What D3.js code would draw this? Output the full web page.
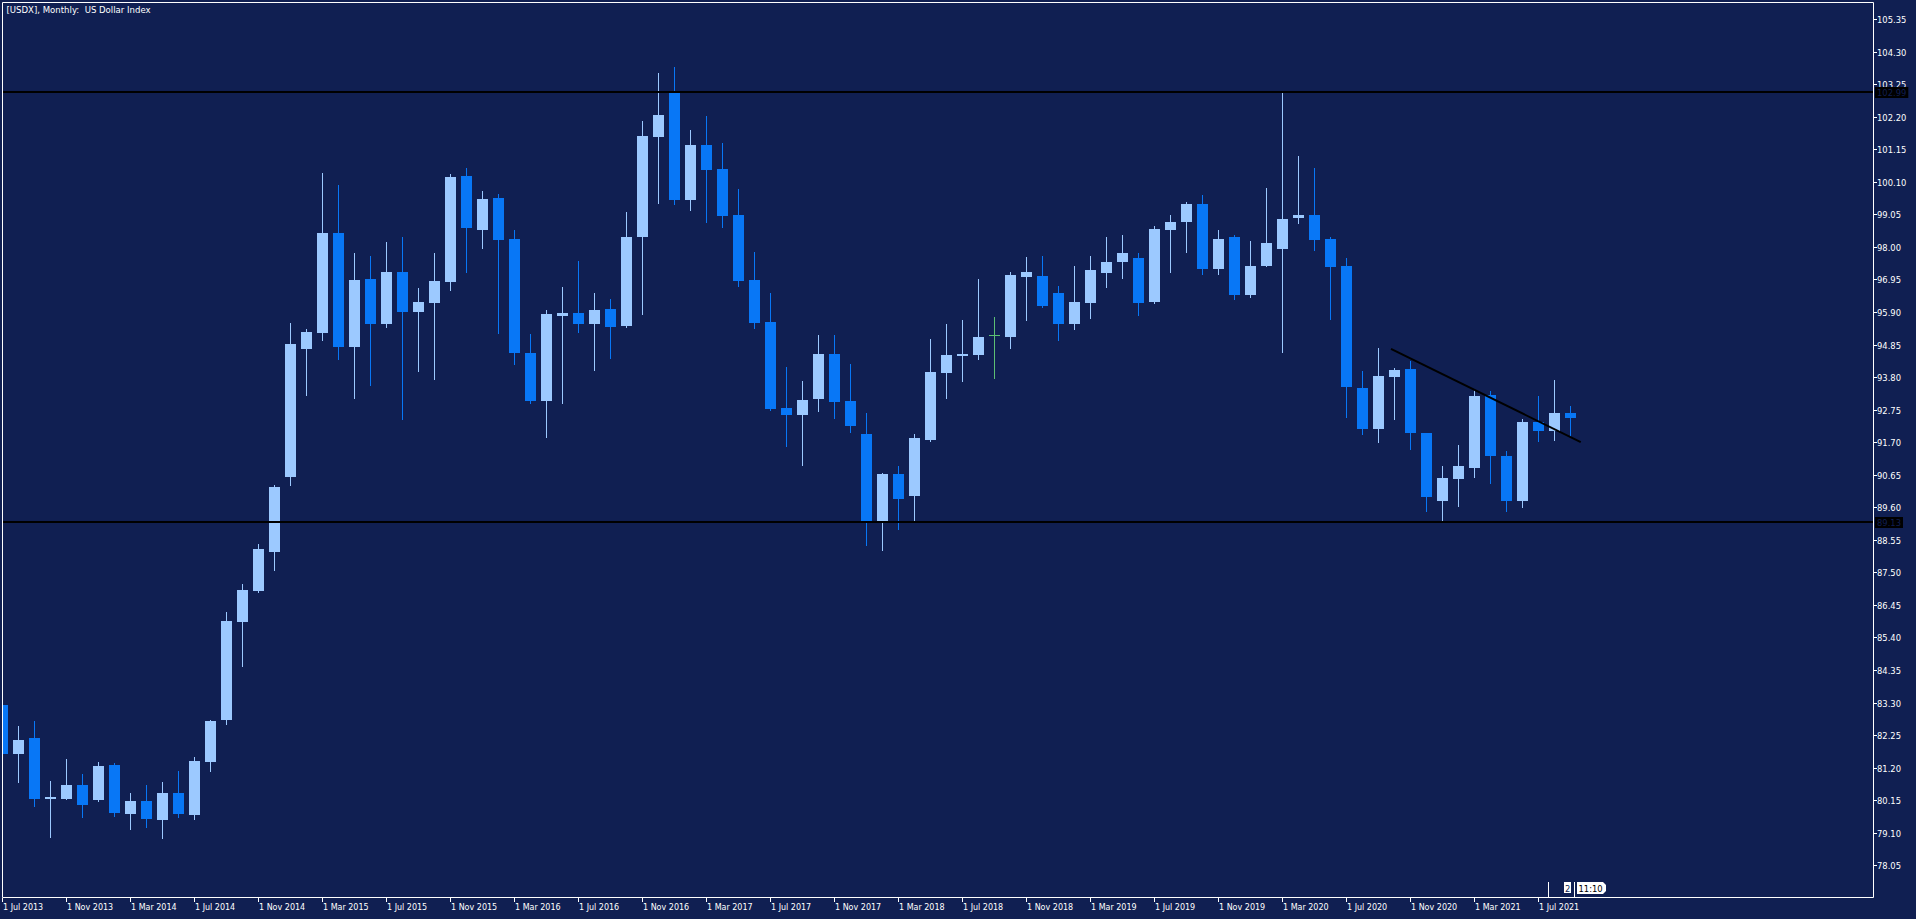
<!DOCTYPE html>
<html><head><meta charset="utf-8">
<script src="https://cdn.jsdelivr.net/npm/d3@7/dist/d3.min.js"></script>
<style>html,body{margin:0;padding:0;background:#101f52;overflow:hidden}</style>
</head><body><svg id="c" width="1916" height="919"></svg>
<script>
// ---- data (USDX monthly, Jul 2013 .. Sep 2021) ----
const openP = [83.22,81.64,82.16,80.19,80.19,80.64,80.16,81.29,79.70,80.12,79.51,80.38,79.67,81.38,82.75,85.89,86.90,88.16,90.59,94.71,95.22,98.45,94.78,96.97,95.51,97.19,95.91,96.19,96.88,100.29,
98.54,99.58,98.25,94.58,93.03,95.77,95.87,95.51,96.00,95.45,98.32,101.54,102.96,99.51,101.29,100.51,99.03,96.93,95.58,92.80,92.58,93.09,94.54,93.03,91.96,89.16,90.67,89.96,91.77,93.93,
94.48,94.51,95.15,95.09,97.03,97.06,96.51,95.51,96.19,97.16,97.51,97.64,96.22,98.54,98.80,99.38,97.29,98.32,96.45,97.38,97.93,98.93,99.03,98.25,97.38,93.45,92.12,93.80,94.06,92.00,
89.80,90.51,90.87,93.22,91.25,89.80,92.35,92.06,92.64];
const highP = [83.22,82.54,82.70,80.77,81.48,81.00,81.38,81.35,80.38,80.64,80.74,81.09,81.54,82.74,86.23,87.13,88.41,90.31,95.55,95.35,100.39,99.99,97.81,97.71,98.15,98.32,96.67,97.81,100.35,100.55,
99.80,99.71,98.54,95.19,95.96,96.70,97.54,96.51,96.32,99.12,102.06,103.61,103.80,101.77,102.22,101.35,99.87,97.83,96.51,94.12,93.67,95.16,95.16,94.22,92.64,90.70,90.93,91.96,95.03,95.51,
95.64,96.96,95.74,97.19,97.67,97.71,96.74,97.38,97.71,98.32,98.38,97.80,98.67,99.03,99.45,99.67,98.54,98.38,98.19,99.90,102.96,100.93,100.54,98.32,97.64,94.00,94.74,94.09,94.32,92.00,
90.93,91.61,93.41,93.35,91.41,92.45,93.19,93.70,92.87];
const lowP = [81.64,80.74,79.96,78.96,80.19,79.61,80.12,79.64,79.22,79.29,78.93,79.61,79.54,81.09,82.62,84.49,86.87,87.59,90.32,93.22,95.00,94.39,93.13,93.55,95.41,92.46,94.00,93.73,96.62,97.19,
97.96,95.22,94.22,92.96,91.87,92.96,95.25,94.03,94.41,95.41,95.83,99.41,99.38,99.19,98.80,98.64,96.74,95.38,92.74,91.58,90.96,92.70,92.48,92.03,88.38,88.22,88.90,89.19,91.74,93.12,
93.67,94.38,93.77,94.74,95.64,96.06,94.99,95.35,95.70,96.70,96.99,95.80,96.19,97.19,97.83,97.12,97.12,96.32,96.38,97.38,94.61,98.77,97.90,95.67,92.51,91.96,91.70,92.45,91.48,89.48,
89.19,89.64,90.58,90.38,89.48,89.61,91.74,91.77,91.90];
const closeP = [81.64,82.09,80.19,80.25,80.64,80.00,81.25,79.74,80.12,79.54,80.38,79.70,81.41,82.71,85.93,86.93,88.25,90.25,94.87,95.25,98.45,94.78,96.93,95.51,97.19,95.91,96.22,96.90,100.25,98.62,
99.54,98.22,94.58,93.03,95.83,95.87,95.51,95.96,95.41,98.32,101.58,102.25,99.51,101.29,100.48,98.99,96.90,95.54,92.77,92.58,93.06,94.54,93.00,92.22,89.16,90.67,89.87,91.83,93.96,94.51,
94.53,95.09,95.15,97.09,97.19,96.09,95.51,96.22,97.25,97.51,97.80,96.19,98.58,98.80,99.38,97.29,98.25,96.45,97.38,98.12,98.90,99.03,98.22,97.35,93.48,92.12,93.83,94.03,92.00,89.93,
90.54,90.93,93.19,91.25,89.80,92.35,92.06,92.64,92.48];
const yTickLabels = ["105.35","104.30","103.25","102.20","101.15","100.10","99.05","98.00","96.95","95.90","94.85","93.80","92.75","91.70","90.65","89.60","88.55","87.50","86.45","85.40","84.35","83.30","82.25","81.20","80.15","79.10","78.05"];
const xTickLabels = ["1 Jul 2013","1 Nov 2013","1 Mar 2014","1 Jul 2014","1 Nov 2014","1 Mar 2015","1 Jul 2015","1 Nov 2015","1 Mar 2016","1 Jul 2016","1 Nov 2016","1 Mar 2017","1 Jul 2017","1 Nov 2017","1 Mar 2018","1 Jul 2018","1 Nov 2018","1 Mar 2019","1 Jul 2019","1 Nov 2019","1 Mar 2020","1 Jul 2020","1 Nov 2020","1 Mar 2021","1 Jul 2021"];
const hLevels = [102.99, 89.13];
const trendBars = [86.78, 98.64];
const trendPrices = [94.71, 91.70];
const title = "[USDX], Monthly:  US Dollar Index";

// ---- drawing ----
const W = 1916, H = 919;
const BG = "#101f52", UP = "#9cc9ff", DN = "#0877f6", DOJI = "#5cbf74", FG = "#ffffff";
const FONT = "DejaVu Sans";
const svg = d3.select("#c");
svg.append("rect").attr("width", W).attr("height", H).attr("fill", BG);

const months = d3.utcMonth.range(new Date(Date.UTC(2013, 6, 1)), new Date(Date.UTC(2021, 9, 1)));
const fmtKey = d3.utcFormat("%Y-%m");
const fmtLbl = d3.utcFormat("1 %b %Y");
const keys = months.map(fmtKey);
const x = d3.scaleBand().domain(keys).range([-5.5, -5.5 + 16 * keys.length]).paddingInner(5 / 16).paddingOuter(5 / 32);
const cx = i => x(keys[0]) + x.bandwidth() / 2 + i * x.step();
const y = d3.scaleLinear().domain([105.35, 78.05]).range([19, 865.3]);

const PL = 2, PT = 2, PR = 1873, PB = 897;
svg.append("clipPath").attr("id", "plotclip").append("rect")
  .attr("x", PL + 1).attr("y", PT + 1).attr("width", PR - PL - 1).attr("height", PB - PT - 1);
const plot = svg.append("g").attr("clip-path", "url(#plotclip)");

const idx = d3.range(keys.length);
const col = i => closeP[i] > openP[i] ? UP : (closeP[i] < openP[i] ? DN : DOJI);

// wicks
plot.append("g").selectAll("line").data(idx).join("line")
  .attr("x1", i => cx(i)).attr("x2", i => cx(i))
  .attr("y1", i => Math.round(y(highP[i]))).attr("y2", i => Math.round(y(lowP[i])) + 1)
  .attr("stroke", col).attr("stroke-width", 1);
// bodies
plot.append("g").selectAll("rect").data(idx).join("rect")
  .attr("x", i => x(keys[i])).attr("width", x.bandwidth())
  .attr("y", i => Math.round(y(Math.max(openP[i], closeP[i]))))
  .attr("height", i => Math.max(1, Math.round(y(Math.min(openP[i], closeP[i]))) - Math.round(y(Math.max(openP[i], closeP[i])))))
  .attr("fill", col);

// horizontal levels
plot.append("g").selectAll("line").data(hLevels).join("line")
  .attr("x1", PL).attr("x2", PR).attr("y1", d => Math.round(y(d))).attr("y2", d => Math.round(y(d)))
  .attr("stroke", "#000").attr("stroke-width", 2);
// trend line
plot.append("line")
  .attr("x1", cx(trendBars[0])).attr("y1", y(trendPrices[0]))
  .attr("x2", cx(trendBars[1])).attr("y2", y(trendPrices[1]))
  .attr("stroke", "#000").attr("stroke-width", 2);

// frame
svg.append("path")
  .attr("d", `M${PL + 0.5},${PB + 0.5}V${PT + 0.5}H${PR + 0.5}V${PB + 0.5}H${PL + 0.5}`)
  .attr("fill", "none").attr("stroke", FG).attr("stroke-width", 1);

// right axis
const yt = svg.append("g");
yTickLabels.forEach(s => {
  const v = +s, yy = Math.round(y(v));
  yt.append("line").attr("x1", PR + 1).attr("x2", PR + 4).attr("y1", yy + 0.5).attr("y2", yy + 0.5)
    .attr("stroke", FG).attr("stroke-width", 1);
  yt.append("text").attr("x", PR + 4).attr("y", yy + 3.5).text(s)
    .attr("fill", FG).attr("font-family", FONT).attr("font-size", 8.4);
});
// level price tags
hLevels.forEach(v => {
  const yy = Math.round(y(v));
  const g = svg.append("g");
  const t = g.append("text").attr("x", PR + 4).attr("y", yy + 3.5).text(v.toFixed(2))
    .attr("fill", BG).attr("font-family", FONT).attr("font-size", 8.4);
  const w = t.node().getComputedTextLength();
  g.insert("rect", "text").attr("x", PR + 2).attr("y", yy - 5).attr("width", w + 4).attr("height", 11).attr("fill", "#000");
});

// bottom axis
const xt = svg.append("g");
xTickLabels.forEach(s => {
  const i = months.findIndex(m => fmtLbl(m).replace(/^1 0?/, "1 ") === s);
  const xx = cx(i);
  xt.append("line").attr("x1", xx).attr("x2", xx).attr("y1", PB + 1).attr("y2", PB + 5)
    .attr("stroke", FG).attr("stroke-width", 1);
  xt.append("text").attr("x", xx + 0.5).attr("y", 910).text(s)
    .attr("fill", FG).attr("font-family", FONT).attr("font-size", 8.0);
});

// title
svg.append("text").attr("x", 6.5).attr("y", 12.5).attr("xml:space", "preserve").style("white-space", "pre")
  .text(title).attr("fill", FG).attr("font-family", FONT).attr("font-size", 8.55);

// bottom-right markers
const mk = svg.append("g");
mk.append("line").attr("x1", 1548.5).attr("x2", 1548.5).attr("y1", 882).attr("y2", PB).attr("stroke", FG);
mk.append("rect").attr("x", 1564).attr("y", 882).attr("width", 7).attr("height", 11).attr("fill", FG);
mk.append("text").attr("x", 1565).attr("y", 891.5).text("2").attr("fill", BG).attr("font-family", FONT).attr("font-size", 8.4);
mk.append("line").attr("x1", 1574.5).attr("x2", 1574.5).attr("y1", 882).attr("y2", PB).attr("stroke", FG);
mk.append("path").attr("d", "M1577,882H1603L1606,885V891L1603,894H1577Z").attr("fill", FG);
mk.append("text").attr("x", 1578.5).attr("y", 891.5).text("11:10").attr("fill", "#000").attr("font-family", FONT).attr("font-size", 8.4);
</script></body></html>
